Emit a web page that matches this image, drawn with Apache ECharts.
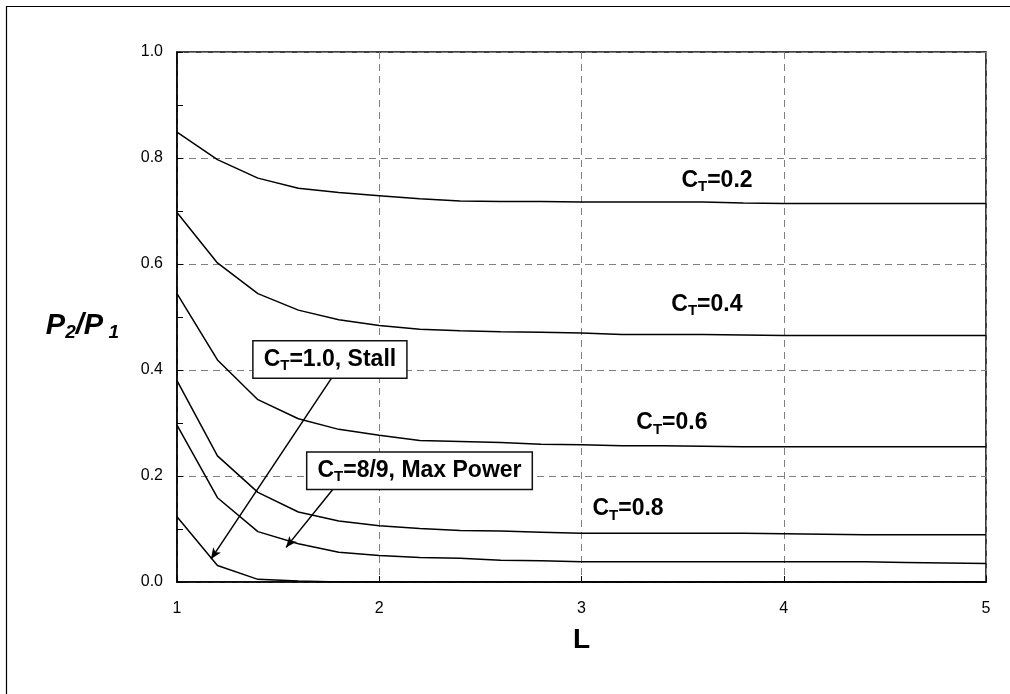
<!DOCTYPE html>
<html>
<head>
<meta charset="utf-8">
<script src="https://cdn.jsdelivr.net/npm/echarts@6/dist/echarts.min.js"></script>
<style>
  html, body { margin: 0; padding: 0; background: #fff; }
  #chart { width: 1010px; height: 694px; }
</style>
</head>
<body>
<div id="chart"></div>
<script>
// Spacing L and downstream power ratio P2/P1 for several thrust coefficients
const spacing = [1.0, 1.2, 1.4, 1.6, 1.8, 2.0, 2.2, 2.4, 2.6, 2.8, 3.0,
                 3.2, 3.4, 3.6, 3.8, 4.0, 4.2, 4.4, 4.6, 4.8, 5.0];

const ratioCt02 = [0.849, 0.797, 0.762, 0.743, 0.735, 0.729, 0.723, 0.719, 0.718, 0.718, 0.717,
                   0.717, 0.717, 0.717, 0.715, 0.714, 0.714, 0.714, 0.714, 0.714, 0.714];
const ratioCt04 = [0.697, 0.602, 0.544, 0.513, 0.495, 0.484, 0.477, 0.474, 0.472, 0.471, 0.470,
                   0.467, 0.467, 0.467, 0.466, 0.465, 0.465, 0.465, 0.465, 0.465, 0.465];
const ratioCt06 = [0.544, 0.419, 0.344, 0.308, 0.288, 0.277, 0.267, 0.265, 0.263, 0.260, 0.259,
                   0.257, 0.257, 0.256, 0.255, 0.255, 0.255, 0.255, 0.255, 0.255, 0.255];
const ratioCt08 = [0.380, 0.238, 0.169, 0.132, 0.115, 0.106, 0.101, 0.097, 0.096, 0.094, 0.092,
                   0.092, 0.092, 0.092, 0.092, 0.091, 0.090, 0.089, 0.089, 0.089, 0.089];
const ratioCt89 = [0.296, 0.159, 0.095, 0.072, 0.056, 0.050, 0.046, 0.045, 0.041, 0.040, 0.038,
                   0.038, 0.038, 0.038, 0.038, 0.038, 0.038, 0.038, 0.037, 0.036, 0.035];
const ratioCt10 = [0.123, 0.031, 0.005, 0.002, 0.000, 0.000, 0.000, 0.000, 0.000, 0.000, 0.000,
                   0.000, 0.000, 0.000, 0.000, 0.000, 0.000, 0.000, 0.000, 0.000, 0.000];

const xTicks = [1, 2, 3, 4, 5];
const yTickLabels = ['0.0', '0.2', '0.4', '0.6', '0.8', '1.0'];

// Curve labels (rich text: C, subscript T, remainder)
const curveLabels = {
  ct02: { tail: '=0.2', at: [3.67, 0.758] },
  ct04: { tail: '=0.4', at: [3.62, 0.523] },
  ct06: { tail: '=0.6', at: [3.447, 0.300] },
  ct08: { tail: '=0.8', at: [3.23, 0.138] }
};
// Boxed callouts with arrows pointing at their curves
const callouts = {
  ct10: { tail: '=1.0, Stall', at: [1.756, 0.420], from: [1.765, 0.385], to: [1.168, 0.0433] },
  ct89: { tail: '=8/9, Max Power', at: [2.199, 0.210], from: [1.770, 0.1746], to: [1.539, 0.0653] }
};

const FONT = '"Liberation Sans", Arial, Helvetica, sans-serif';

const labelRich = {
  c: { fontFamily: FONT, fontSize: 23, fontWeight: 'bold', color: '#000', lineHeight: 26 },
  t: { fontFamily: FONT, fontSize: 15, fontWeight: 'bold', color: '#000', lineHeight: 15, padding: [13, 0, 0, 0] }
};

function pairs(values) {
  return spacing.map((x, i) => [x, values[i]]);
}

function curveMark(info, boxed) {
  const label = {
    show: true,
    position: 'inside',
    formatter: '{c|C}{t|T}{c|' + info.tail + '}',
    rich: labelRich
  };
  if (boxed) {
    Object.assign(label, {
      backgroundColor: '#fff',
      borderColor: '#111',
      borderWidth: 1.5,
      padding: [5, 10, 5, 10]
    });
  }
  return {
    silent: true,
    symbol: 'rect',
    symbolSize: 0,
    label: label,
    data: [{ coord: info.at }]
  };
}

function arrowMark(info) {
  return {
    silent: true,
    symbol: ['none', 'arrow'],
    symbolSize: [7, 11],
    label: { show: false },
    lineStyle: { color: '#000', width: 1.5, type: 'solid' },
    emphasis: { disabled: true },
    data: [[{ coord: info.from }, { coord: info.to }]]
  };
}

function curve(name, values, extra) {
  return Object.assign({
    name: name,
    type: 'line',
    data: pairs(values),
    showSymbol: false,
    symbol: 'none',
    smooth: false,
    silent: true,
    lineStyle: { color: '#000', width: 1.5 },
    z: 3
  }, extra || {});
}

const chart = echarts.init(document.getElementById('chart'), null, { renderer: 'canvas' });

chart.setOption({
  animation: false,
  backgroundColor: '#fff',
  grid: {
    left: 177, right: 24, top: 52, bottom: 112,
    show: true, borderColor: '#000', borderWidth: 1.5, backgroundColor: 'transparent'
  },
  xAxis: {
    type: 'value',
    min: 1, max: 5, interval: 1,
    name: 'L',
    nameLocation: 'middle',
    nameGap: 44,
    nameTextStyle: { fontFamily: FONT, fontSize: 28, fontWeight: 'bold', color: '#000' },
    axisLine: { show: true, lineStyle: { color: '#000', width: 1.5 } },
    axisTick: { show: true, inside: true, length: 6, lineStyle: { color: '#000' } },
    axisLabel: {
      margin: 19, fontFamily: FONT, fontSize: 16, color: '#000',
      formatter: v => (xTicks.indexOf(v) >= 0 ? String(v) : '')
    },
    splitLine: { show: true, lineStyle: { color: '#808080', type: [7, 5], width: 1 } }
  },
  yAxis: {
    type: 'value',
    min: 0, max: 1, interval: 0.2,
    name: '{p|P}{s|2}{p|/P}{s| 1}',
    nameLocation: 'middle',
    nameRotate: 0,
    nameGap: 58,
    nameTextStyle: {
      padding: [18, 0, 0, 0],
      rich: {
        p: { fontFamily: FONT, fontSize: 29, fontWeight: 'bold', fontStyle: 'italic', color: '#000', lineHeight: 30 },
        s: { fontFamily: FONT, fontSize: 19, fontWeight: 'bold', fontStyle: 'italic', color: '#000', lineHeight: 19, padding: [14, 0, 0, 0] }
      }
    },
    axisLine: { show: true, lineStyle: { color: '#000', width: 1.5 } },
    axisTick: { show: true, inside: true, length: 6, lineStyle: { color: '#000' } },
    minorTick: { show: true, splitNumber: 2, length: 6, lineStyle: { color: '#000' } },
    axisLabel: {
      margin: 14, fontFamily: FONT, fontSize: 16, color: '#000',
      formatter: v => yTickLabels[Math.round(v / 0.2)]
    },
    splitLine: { show: true, lineStyle: { color: '#808080', type: [7, 5], width: 1 } }
  },
  graphic: [{
    type: 'rect',
    shape: { x: 6.5, y: 6.5, width: 1020, height: 700 },
    style: { fill: 'none', stroke: '#000', lineWidth: 1.2 },
    silent: true,
    z: -10
  }],
  series: [
    curve('C_T=0.2', ratioCt02, { markPoint: curveMark(curveLabels.ct02, false) }),
    curve('C_T=0.4', ratioCt04, { markPoint: curveMark(curveLabels.ct04, false) }),
    curve('C_T=0.6', ratioCt06, { markPoint: curveMark(curveLabels.ct06, false) }),
    curve('C_T=0.8', ratioCt08, { markPoint: curveMark(curveLabels.ct08, false) }),
    curve('C_T=8/9', ratioCt89, {
      markPoint: curveMark(callouts.ct89, true),
      markLine: arrowMark(callouts.ct89)
    }),
    curve('C_T=1.0', ratioCt10, {
      markPoint: curveMark(callouts.ct10, true),
      markLine: arrowMark(callouts.ct10)
    })
  ]
});
</script>
</body>
</html>
